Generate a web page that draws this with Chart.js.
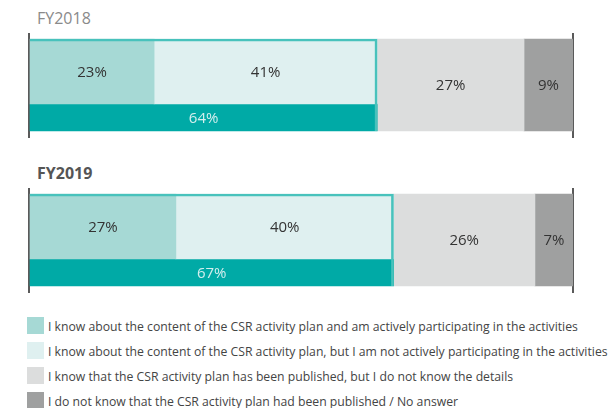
<!DOCTYPE html>
<html>
<head>
<meta charset="utf-8">
<script src="https://cdn.jsdelivr.net/npm/chart.js@4"></script>
<style>
  html, body { margin:0; padding:0; background:#fff; }
  body { width:611px; height:408px; position:relative; overflow:hidden; font-family:"Open Sans", sans-serif; }
  .title { position:absolute; left:37px; font-size:16px; line-height:20px; }
  .t2018 { top:8px; color:#8a8a8a; font-weight:400; }
  .t2019 { top:163px; color:#555; font-weight:700; }
  .chartbox { position:absolute; left:0; width:611px; height:105px; }
  #legend { position:absolute; left:27px; top:313px; }
  .li { height:25px; display:flex; align-items:center; font-family:"Open Sans", sans-serif; font-size:13px; color:#444; white-space:nowrap; }
  .sw { width:17px; height:17px; margin-right:4px; flex:none; }
  .tx { display:inline-block; transform-origin:0 50%; }
</style>
</head>
<body>
<div class="title t2018">FY2018</div>
<div class="title t2019">FY2019</div>
<div class="chartbox" style="top:33px"><canvas id="c0"></canvas></div>
<div class="chartbox" style="top:188px"><canvas id="c1"></canvas></div>
<div id="legend"></div>
<script>
// ---- data ----
const years = ['FY2018', 'FY2019'];
const activeParticipating = [23, 27];
const knowNotParticipating = [41, 40];
const knowPublished = [27, 26];
const doNotKnow = [9, 7];
const knowContentTotal = [64, 67];
const seriesLabels = [
  'I know about the content of the CSR activity plan and am actively participating in the activities',
  'I know about the content of the CSR activity plan, but I am not actively participating in the activities',
  'I know that the CSR activity plan has been published, but I do not know the details',
  'I do not know that the CSR activity plan had been published / No answer'
];
const seriesColors = ['#a6d9d5', '#dff0f0', '#dcdddd', '#9fa0a0'];
const totalColor = '#00aaa6';
const outlineColor = '#48c2bc';

// ---- layout (pixels within each panel canvas) ----
const H = 105;
const upper = { c: 38.5, t: 65 };
const lower = { c: 84.5, t: 27 };
const full  = { c: 52, t: 92 };

const labelPlugin = {
  id: 'segLabels',
  afterDatasetsDraw(chart) {
    const ctx = chart.ctx;
    ctx.save();
    ctx.textAlign = 'center';
    ctx.textBaseline = 'middle';
    ctx.font = '15px "Open Sans", sans-serif';
    chart.data.datasets.forEach((ds, i) => {
      if (!ds.showLabel) return;
      const meta = chart.getDatasetMeta(i);
      meta.data.forEach((el, j) => {
        const p = el.getCenterPoint();
        const raw = ds.data[j].x;
        ctx.fillStyle = ds.labelColor;
        ctx.fillText((raw[1] - raw[0]) + '%', p.x, p.y + 1);
      });
    });
    ctx.restore();
  }
};

function makeChart(id, k) {
  const a = activeParticipating[k], b = knowNotParticipating[k], c = knowPublished[k], d = doNotKnow[k], t = knowContentTotal[k];
  const base = { stack: 's', borderSkipped: false, borderWidth: 0, showLabel: true, labelColor: '#333' };
  const datasets = [
    Object.assign({}, base, { label: 'outline', data: [{ x: [0, t], y: full.c }], barThickness: full.t,
      backgroundColor: 'rgba(0,0,0,0)', borderColor: outlineColor, borderWidth: { top: 2, right: 2, left: 0, bottom: 0 }, order: -1, showLabel: false }),
    Object.assign({}, base, { label: seriesLabels[0], data: [{ x: [0, a], y: upper.c }], barThickness: upper.t, backgroundColor: seriesColors[0] }),
    Object.assign({}, base, { label: seriesLabels[1], data: [{ x: [a, a + b], y: upper.c }], barThickness: upper.t, backgroundColor: seriesColors[1] }),
    Object.assign({}, base, { label: 'total', data: [{ x: [0, t], y: lower.c }], barThickness: lower.t, backgroundColor: totalColor, labelColor: '#d4efee' }),
    Object.assign({}, base, { label: seriesLabels[2], data: [{ x: [t, t + c], y: full.c }], barThickness: full.t, backgroundColor: seriesColors[2] }),
    Object.assign({}, base, { label: seriesLabels[3], data: [{ x: [t + c, t + c + d], y: full.c }], barThickness: full.t, backgroundColor: seriesColors[3] })
  ];
  return new Chart(document.getElementById(id), {
    type: 'bar',
    data: { datasets },
    options: {
      indexAxis: 'y',
      responsive: true,
      maintainAspectRatio: false,
      animation: false,
      layout: { padding: { left: 29, right: 38, top: 0, bottom: 0 } },
      plugins: { legend: { display: false }, tooltip: { enabled: false } },
      scales: {
        x: { type: 'linear', min: 0, max: 100, z: 1, stacked: false,
             ticks: { display: false, stepSize: 100 },
             grid: { color: '#5a5a5a', lineWidth: 2, drawTicks: false },
             border: { display: false },
             afterFit(scale) { scale.height = 0; } },
        y: { type: 'linear', min: 0, max: H, reverse: true, offset: false, display: false }
      }
    },
    plugins: [labelPlugin]
  });
}
makeChart('c0', 0);
makeChart('c1', 1);

// legend
const lg = document.getElementById('legend');
const mctx = document.createElement('canvas').getContext('2d');
mctx.font = '13px "Open Sans"';
const sx = 530 / mctx.measureText(seriesLabels[0]).width;
seriesLabels.forEach((s, i) => {
  const row = document.createElement('div');
  row.className = 'li';
  const sw = document.createElement('span');
  sw.className = 'sw';
  sw.style.background = seriesColors[i];
  const tx = document.createElement('span');
  tx.className = 'tx';
  tx.style.transform = 'scaleX(' + sx.toFixed(3) + ')';
  tx.textContent = s;
  row.appendChild(sw); row.appendChild(tx);
  lg.appendChild(row);
});
</script>
</body>
</html>
